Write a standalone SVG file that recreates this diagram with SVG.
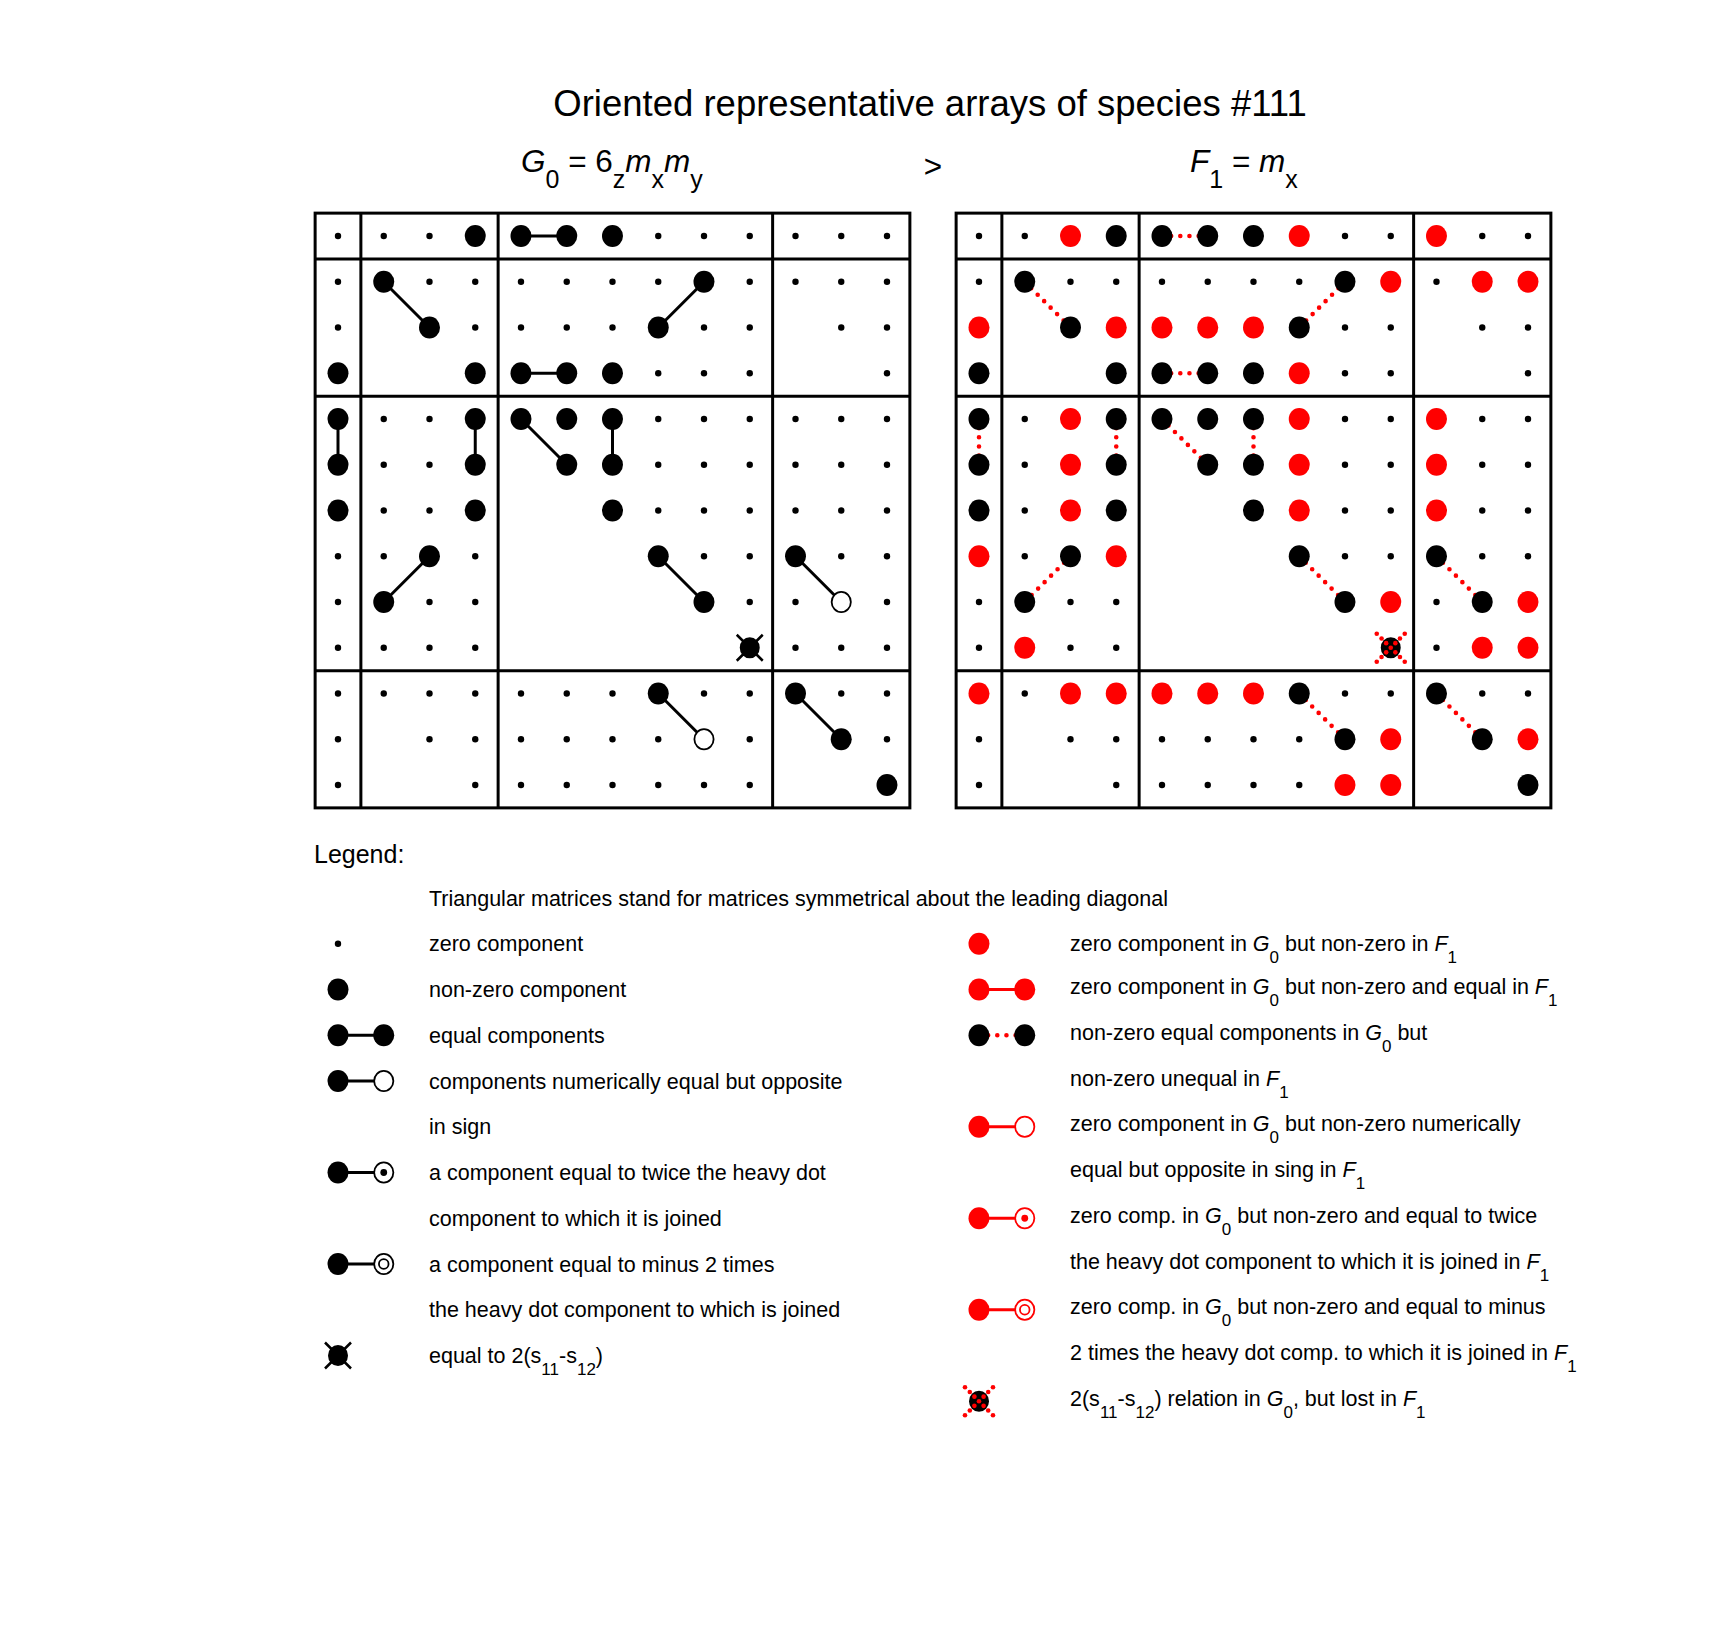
<svg xmlns="http://www.w3.org/2000/svg" width="1715" height="1626" viewBox="0 0 1715 1626">
<style>
text { font-family: "Liberation Sans", Arial, Helvetica, sans-serif; fill: #000; }
.ttl { font-size: 36.5px; }
.hd { font-size: 31.5px; }
.hs { font-size: 25px; }
.lg { font-size: 21.5px; }
.ls { font-size: 17px; }
.lh { font-size: 25px; }
.it { font-style: italic; }
.fr { fill: none; stroke: #000; stroke-width: 3; }
.dv { stroke: #000; stroke-width: 3; }
.c { stroke: #000; stroke-width: 3; }
.cr { stroke: #f00; stroke-width: 3; }
.d { stroke: #f00; stroke-width: 4.6; stroke-linecap: round; stroke-dasharray: 0 9.15; fill: none; }
</style>
<defs>
<circle id="s" r="3.2" fill="#000"/>
<ellipse id="b" rx="10.5" ry="11" fill="#000"/>
<ellipse id="r" rx="10.5" ry="11" fill="#f00"/>
<ellipse id="o" rx="9.6" ry="10.1" fill="#fff" stroke="#000" stroke-width="1.8"/>
<ellipse id="or" rx="9.6" ry="10.1" fill="#fff" stroke="#f00" stroke-width="1.8"/>
<g id="od"><use href="#o"/><circle r="3.4" fill="#000"/></g>
<g id="oo"><use href="#o"/><circle r="4.8" fill="none" stroke="#000" stroke-width="1.8"/></g>
<g id="odr"><use href="#or"/><circle r="3.4" fill="#f00"/></g>
<g id="oor"><use href="#or"/><circle r="4.8" fill="none" stroke="#f00" stroke-width="1.8"/></g>
<g id="x"><ellipse rx="10" ry="10.5" fill="#000"/><path d="M-13,-13 L13,13 M-13,13 L13,-13" stroke="#000" stroke-width="2.5"/></g>
<g id="xr"><ellipse rx="10" ry="10.5" fill="#000"/>
<g fill="#f00">
<circle r="2.3"/>
<circle cx="-4.6" cy="-4.6" r="2.3"/><circle cx="4.6" cy="-4.6" r="2.3"/><circle cx="-4.6" cy="4.6" r="2.3"/><circle cx="4.6" cy="4.6" r="2.3"/>
<circle cx="-9.2" cy="-9.2" r="2.3"/><circle cx="9.2" cy="-9.2" r="2.3"/><circle cx="-9.2" cy="9.2" r="2.3"/><circle cx="9.2" cy="9.2" r="2.3"/>
<circle cx="-14" cy="-14" r="2.3"/><circle cx="14" cy="-14" r="2.3"/><circle cx="-14" cy="14" r="2.3"/><circle cx="14" cy="14" r="2.3"/>
</g></g>
</defs>

<rect width="1715" height="1626" fill="#fff"/>

<g id="titles">
<text class="ttl" x="930" y="116" text-anchor="middle">Oriented representative arrays of species #111</text>
<text class="hd" x="521" y="172"><tspan class="it">G</tspan><tspan class="hs" dy="16">0</tspan><tspan dy="-16"> = 6</tspan><tspan class="hs" dy="16">z</tspan><tspan class="it" dy="-16">m</tspan><tspan class="hs" dy="16">x</tspan><tspan class="it" dy="-16">m</tspan><tspan class="hs" dy="16">y</tspan></text>
<text class="hd" x="933" y="177" text-anchor="middle">&gt;</text>
<text class="hd" x="1190" y="172"><tspan class="it">F</tspan><tspan class="hs" dy="16">1</tspan><tspan dy="-16"> = </tspan><tspan class="it">m</tspan><tspan class="hs" dy="16">x</tspan></text>
</g>

<g id="G0-array">
<g id="G0-frame">
<rect class="fr" x="315.125" y="213.125" width="594.75" height="594.75"/>
<line class="dv" x1="360.875" y1="213.125" x2="360.875" y2="807.875"/>
<line class="dv" x1="498.125" y1="213.125" x2="498.125" y2="807.875"/>
<line class="dv" x1="772.625" y1="213.125" x2="772.625" y2="807.875"/>
<line class="dv" x1="315.125" y1="258.875" x2="909.875" y2="258.875"/>
<line class="dv" x1="315.125" y1="396.125" x2="909.875" y2="396.125"/>
<line class="dv" x1="315.125" y1="670.625" x2="909.875" y2="670.625"/>
</g>
<g id="G0-connectors">
<line class="c" x1="521" y1="236" x2="566.75" y2="236"/>
<line class="c" x1="383.75" y1="281.75" x2="429.5" y2="327.5"/>
<line class="c" x1="704" y1="281.75" x2="658.25" y2="327.5"/>
<line class="c" x1="521" y1="373.25" x2="566.75" y2="373.25"/>
<line class="c" x1="338" y1="419" x2="338" y2="464.75"/>
<line class="c" x1="475.25" y1="419" x2="475.25" y2="464.75"/>
<line class="c" x1="521" y1="419" x2="566.75" y2="464.75"/>
<line class="c" x1="612.5" y1="419" x2="612.5" y2="464.75"/>
<line class="c" x1="429.5" y1="556.25" x2="383.75" y2="602"/>
<line class="c" x1="658.25" y1="556.25" x2="704" y2="602"/>
<line class="c" x1="795.5" y1="556.25" x2="841.25" y2="602"/>
<line class="c" x1="658.25" y1="693.5" x2="704" y2="739.25"/>
<line class="c" x1="795.5" y1="693.5" x2="841.25" y2="739.25"/>
</g>
<g id="G0-entries">
<g transform="translate(0 236)"><use href="#s" x="338"/><use href="#s" x="383.75"/><use href="#s" x="429.5"/><use href="#b" x="475.25"/><use href="#b" x="521"/><use href="#b" x="566.75"/><use href="#b" x="612.5"/><use href="#s" x="658.25"/><use href="#s" x="704"/><use href="#s" x="749.75"/><use href="#s" x="795.5"/><use href="#s" x="841.25"/><use href="#s" x="887"/></g>
<g transform="translate(0 281.75)"><use href="#s" x="338"/><use href="#b" x="383.75"/><use href="#s" x="429.5"/><use href="#s" x="475.25"/><use href="#s" x="521"/><use href="#s" x="566.75"/><use href="#s" x="612.5"/><use href="#s" x="658.25"/><use href="#b" x="704"/><use href="#s" x="749.75"/><use href="#s" x="795.5"/><use href="#s" x="841.25"/><use href="#s" x="887"/></g>
<g transform="translate(0 327.5)"><use href="#s" x="338"/><use href="#b" x="429.5"/><use href="#s" x="475.25"/><use href="#s" x="521"/><use href="#s" x="566.75"/><use href="#s" x="612.5"/><use href="#b" x="658.25"/><use href="#s" x="704"/><use href="#s" x="749.75"/><use href="#s" x="841.25"/><use href="#s" x="887"/></g>
<g transform="translate(0 373.25)"><use href="#b" x="338"/><use href="#b" x="475.25"/><use href="#b" x="521"/><use href="#b" x="566.75"/><use href="#b" x="612.5"/><use href="#s" x="658.25"/><use href="#s" x="704"/><use href="#s" x="749.75"/><use href="#s" x="887"/></g>
<g transform="translate(0 419)"><use href="#b" x="338"/><use href="#s" x="383.75"/><use href="#s" x="429.5"/><use href="#b" x="475.25"/><use href="#b" x="521"/><use href="#b" x="566.75"/><use href="#b" x="612.5"/><use href="#s" x="658.25"/><use href="#s" x="704"/><use href="#s" x="749.75"/><use href="#s" x="795.5"/><use href="#s" x="841.25"/><use href="#s" x="887"/></g>
<g transform="translate(0 464.75)"><use href="#b" x="338"/><use href="#s" x="383.75"/><use href="#s" x="429.5"/><use href="#b" x="475.25"/><use href="#b" x="566.75"/><use href="#b" x="612.5"/><use href="#s" x="658.25"/><use href="#s" x="704"/><use href="#s" x="749.75"/><use href="#s" x="795.5"/><use href="#s" x="841.25"/><use href="#s" x="887"/></g>
<g transform="translate(0 510.5)"><use href="#b" x="338"/><use href="#s" x="383.75"/><use href="#s" x="429.5"/><use href="#b" x="475.25"/><use href="#b" x="612.5"/><use href="#s" x="658.25"/><use href="#s" x="704"/><use href="#s" x="749.75"/><use href="#s" x="795.5"/><use href="#s" x="841.25"/><use href="#s" x="887"/></g>
<g transform="translate(0 556.25)"><use href="#s" x="338"/><use href="#s" x="383.75"/><use href="#b" x="429.5"/><use href="#s" x="475.25"/><use href="#b" x="658.25"/><use href="#s" x="704"/><use href="#s" x="749.75"/><use href="#b" x="795.5"/><use href="#s" x="841.25"/><use href="#s" x="887"/></g>
<g transform="translate(0 602)"><use href="#s" x="338"/><use href="#b" x="383.75"/><use href="#s" x="429.5"/><use href="#s" x="475.25"/><use href="#b" x="704"/><use href="#s" x="749.75"/><use href="#s" x="795.5"/><use href="#o" x="841.25"/><use href="#s" x="887"/></g>
<g transform="translate(0 647.75)"><use href="#s" x="338"/><use href="#s" x="383.75"/><use href="#s" x="429.5"/><use href="#s" x="475.25"/><use href="#x" x="749.75"/><use href="#s" x="795.5"/><use href="#s" x="841.25"/><use href="#s" x="887"/></g>
<g transform="translate(0 693.5)"><use href="#s" x="338"/><use href="#s" x="383.75"/><use href="#s" x="429.5"/><use href="#s" x="475.25"/><use href="#s" x="521"/><use href="#s" x="566.75"/><use href="#s" x="612.5"/><use href="#b" x="658.25"/><use href="#s" x="704"/><use href="#s" x="749.75"/><use href="#b" x="795.5"/><use href="#s" x="841.25"/><use href="#s" x="887"/></g>
<g transform="translate(0 739.25)"><use href="#s" x="338"/><use href="#s" x="429.5"/><use href="#s" x="475.25"/><use href="#s" x="521"/><use href="#s" x="566.75"/><use href="#s" x="612.5"/><use href="#s" x="658.25"/><use href="#o" x="704"/><use href="#s" x="749.75"/><use href="#b" x="841.25"/><use href="#s" x="887"/></g>
<g transform="translate(0 785)"><use href="#s" x="338"/><use href="#s" x="475.25"/><use href="#s" x="521"/><use href="#s" x="566.75"/><use href="#s" x="612.5"/><use href="#s" x="658.25"/><use href="#s" x="704"/><use href="#s" x="749.75"/><use href="#b" x="887"/></g>
</g>
</g>

<g id="F1-array" transform="translate(641 0)">
<g id="F1-frame">
<rect class="fr" x="315.125" y="213.125" width="594.75" height="594.75"/>
<line class="dv" x1="360.875" y1="213.125" x2="360.875" y2="807.875"/>
<line class="dv" x1="498.125" y1="213.125" x2="498.125" y2="807.875"/>
<line class="dv" x1="772.625" y1="213.125" x2="772.625" y2="807.875"/>
<line class="dv" x1="315.125" y1="258.875" x2="909.875" y2="258.875"/>
<line class="dv" x1="315.125" y1="396.125" x2="909.875" y2="396.125"/>
<line class="dv" x1="315.125" y1="670.625" x2="909.875" y2="670.625"/>
</g>
<g id="F1-connectors">
<line class="d" x1="521" y1="236" x2="566.75" y2="236"/>
<line class="d" x1="383.75" y1="281.75" x2="429.5" y2="327.5"/>
<line class="d" x1="704" y1="281.75" x2="658.25" y2="327.5"/>
<line class="d" x1="521" y1="373.25" x2="566.75" y2="373.25"/>
<line class="d" x1="338" y1="419" x2="338" y2="464.75"/>
<line class="d" x1="475.25" y1="419" x2="475.25" y2="464.75"/>
<line class="d" x1="521" y1="419" x2="566.75" y2="464.75"/>
<line class="d" x1="612.5" y1="419" x2="612.5" y2="464.75"/>
<line class="d" x1="429.5" y1="556.25" x2="383.75" y2="602"/>
<line class="d" x1="658.25" y1="556.25" x2="704" y2="602"/>
<line class="d" x1="795.5" y1="556.25" x2="841.25" y2="602"/>
<line class="d" x1="658.25" y1="693.5" x2="704" y2="739.25"/>
<line class="d" x1="795.5" y1="693.5" x2="841.25" y2="739.25"/>
</g>
<g id="F1-entries">
<g transform="translate(0 236)"><use href="#s" x="338"/><use href="#s" x="383.75"/><use href="#r" x="429.5"/><use href="#b" x="475.25"/><use href="#b" x="521"/><use href="#b" x="566.75"/><use href="#b" x="612.5"/><use href="#r" x="658.25"/><use href="#s" x="704"/><use href="#s" x="749.75"/><use href="#r" x="795.5"/><use href="#s" x="841.25"/><use href="#s" x="887"/></g>
<g transform="translate(0 281.75)"><use href="#s" x="338"/><use href="#b" x="383.75"/><use href="#s" x="429.5"/><use href="#s" x="475.25"/><use href="#s" x="521"/><use href="#s" x="566.75"/><use href="#s" x="612.5"/><use href="#s" x="658.25"/><use href="#b" x="704"/><use href="#r" x="749.75"/><use href="#s" x="795.5"/><use href="#r" x="841.25"/><use href="#r" x="887"/></g>
<g transform="translate(0 327.5)"><use href="#r" x="338"/><use href="#b" x="429.5"/><use href="#r" x="475.25"/><use href="#r" x="521"/><use href="#r" x="566.75"/><use href="#r" x="612.5"/><use href="#b" x="658.25"/><use href="#s" x="704"/><use href="#s" x="749.75"/><use href="#s" x="841.25"/><use href="#s" x="887"/></g>
<g transform="translate(0 373.25)"><use href="#b" x="338"/><use href="#b" x="475.25"/><use href="#b" x="521"/><use href="#b" x="566.75"/><use href="#b" x="612.5"/><use href="#r" x="658.25"/><use href="#s" x="704"/><use href="#s" x="749.75"/><use href="#s" x="887"/></g>
<g transform="translate(0 419)"><use href="#b" x="338"/><use href="#s" x="383.75"/><use href="#r" x="429.5"/><use href="#b" x="475.25"/><use href="#b" x="521"/><use href="#b" x="566.75"/><use href="#b" x="612.5"/><use href="#r" x="658.25"/><use href="#s" x="704"/><use href="#s" x="749.75"/><use href="#r" x="795.5"/><use href="#s" x="841.25"/><use href="#s" x="887"/></g>
<g transform="translate(0 464.75)"><use href="#b" x="338"/><use href="#s" x="383.75"/><use href="#r" x="429.5"/><use href="#b" x="475.25"/><use href="#b" x="566.75"/><use href="#b" x="612.5"/><use href="#r" x="658.25"/><use href="#s" x="704"/><use href="#s" x="749.75"/><use href="#r" x="795.5"/><use href="#s" x="841.25"/><use href="#s" x="887"/></g>
<g transform="translate(0 510.5)"><use href="#b" x="338"/><use href="#s" x="383.75"/><use href="#r" x="429.5"/><use href="#b" x="475.25"/><use href="#b" x="612.5"/><use href="#r" x="658.25"/><use href="#s" x="704"/><use href="#s" x="749.75"/><use href="#r" x="795.5"/><use href="#s" x="841.25"/><use href="#s" x="887"/></g>
<g transform="translate(0 556.25)"><use href="#r" x="338"/><use href="#s" x="383.75"/><use href="#b" x="429.5"/><use href="#r" x="475.25"/><use href="#b" x="658.25"/><use href="#s" x="704"/><use href="#s" x="749.75"/><use href="#b" x="795.5"/><use href="#s" x="841.25"/><use href="#s" x="887"/></g>
<g transform="translate(0 602)"><use href="#s" x="338"/><use href="#b" x="383.75"/><use href="#s" x="429.5"/><use href="#s" x="475.25"/><use href="#b" x="704"/><use href="#r" x="749.75"/><use href="#s" x="795.5"/><use href="#b" x="841.25"/><use href="#r" x="887"/></g>
<g transform="translate(0 647.75)"><use href="#s" x="338"/><use href="#r" x="383.75"/><use href="#s" x="429.5"/><use href="#s" x="475.25"/><use href="#xr" x="749.75"/><use href="#s" x="795.5"/><use href="#r" x="841.25"/><use href="#r" x="887"/></g>
<g transform="translate(0 693.5)"><use href="#r" x="338"/><use href="#s" x="383.75"/><use href="#r" x="429.5"/><use href="#r" x="475.25"/><use href="#r" x="521"/><use href="#r" x="566.75"/><use href="#r" x="612.5"/><use href="#b" x="658.25"/><use href="#s" x="704"/><use href="#s" x="749.75"/><use href="#b" x="795.5"/><use href="#s" x="841.25"/><use href="#s" x="887"/></g>
<g transform="translate(0 739.25)"><use href="#s" x="338"/><use href="#s" x="429.5"/><use href="#s" x="475.25"/><use href="#s" x="521"/><use href="#s" x="566.75"/><use href="#s" x="612.5"/><use href="#s" x="658.25"/><use href="#b" x="704"/><use href="#r" x="749.75"/><use href="#b" x="841.25"/><use href="#r" x="887"/></g>
<g transform="translate(0 785)"><use href="#s" x="338"/><use href="#s" x="475.25"/><use href="#s" x="521"/><use href="#s" x="566.75"/><use href="#s" x="612.5"/><use href="#s" x="658.25"/><use href="#r" x="704"/><use href="#r" x="749.75"/><use href="#b" x="887"/></g>
</g>
</g>

<g id="legend">
<text class="lh" x="314" y="863">Legend:</text>
<text class="lg" x="429" y="905.5">Triangular matrices stand for matrices symmetrical about the leading diagonal</text>

<g id="leg-zero">
<use href="#s" x="338" y="943.75"/>
<text class="lg" x="429" y="951.25">zero component</text>
</g>
<g id="leg-nonzero">
<use href="#b" x="338" y="989.5"/>
<text class="lg" x="429" y="997">non-zero component</text>
</g>
<g id="leg-equal">
<line class="c" x1="338" y1="1035.25" x2="383.75" y2="1035.25"/>
<use href="#b" x="338" y="1035.25"/><use href="#b" x="383.75" y="1035.25"/>
<text class="lg" x="429" y="1042.75">equal components</text>
</g>
<g id="leg-opposite">
<line class="c" x1="338" y1="1081" x2="383.75" y2="1081"/>
<use href="#b" x="338" y="1081"/><use href="#o" x="383.75" y="1081"/>
<text class="lg" x="429" y="1088.5">components numerically equal but opposite</text>
<text class="lg" x="429" y="1134.25">in sign</text>
</g>
<g id="leg-twice">
<line class="c" x1="338" y1="1172.5" x2="383.75" y2="1172.5"/>
<use href="#b" x="338" y="1172.5"/><use href="#od" x="383.75" y="1172.5"/>
<text class="lg" x="429" y="1180">a component equal to twice the heavy dot</text>
<text class="lg" x="429" y="1225.75">component to which it is joined</text>
</g>
<g id="leg-minus2">
<line class="c" x1="338" y1="1264" x2="383.75" y2="1264"/>
<use href="#b" x="338" y="1264"/><use href="#oo" x="383.75" y="1264"/>
<text class="lg" x="429" y="1271.5">a component equal to minus 2 times</text>
<text class="lg" x="429" y="1317.25">the heavy dot component to which is joined</text>
</g>
<g id="leg-s11s12">
<use href="#x" x="338" y="1355.5"/>
<text class="lg" x="429" y="1363">equal to 2(s<tspan class="ls" dy="12">11</tspan><tspan dy="-12">-s</tspan><tspan class="ls" dy="12">12</tspan><tspan dy="-12">)</tspan></text>
</g>

<g id="leg-red-zero">
<use href="#r" x="979" y="943.75"/>
<text class="lg" x="1070" y="951.25">zero component in <tspan class="it">G</tspan><tspan class="ls" dy="12">0</tspan><tspan dy="-12"> but non-zero in </tspan><tspan class="it">F</tspan><tspan class="ls" dy="12">1</tspan></text>
</g>
<g id="leg-red-equal">
<line class="cr" x1="979" y1="989.5" x2="1024.75" y2="989.5"/>
<use href="#r" x="979" y="989.5"/><use href="#r" x="1024.75" y="989.5"/>
<text class="lg" x="1070" y="994">zero component in <tspan class="it">G</tspan><tspan class="ls" dy="12">0</tspan><tspan dy="-12"> but non-zero and equal in </tspan><tspan class="it">F</tspan><tspan class="ls" dy="12">1</tspan></text>
</g>
<g id="leg-red-unequal">
<line class="d" x1="979" y1="1035.25" x2="1024.75" y2="1035.25"/>
<use href="#b" x="979" y="1035.25"/><use href="#b" x="1024.75" y="1035.25"/>
<text class="lg" x="1070" y="1039.75">non-zero equal components in <tspan class="it">G</tspan><tspan class="ls" dy="12">0</tspan><tspan dy="-12"> but</tspan></text>
<text class="lg" x="1070" y="1085.5">non-zero unequal in <tspan class="it">F</tspan><tspan class="ls" dy="12">1</tspan></text>
</g>
<g id="leg-red-opposite">
<line class="cr" x1="979" y1="1126.75" x2="1024.75" y2="1126.75"/>
<use href="#r" x="979" y="1126.75"/><use href="#or" x="1024.75" y="1126.75"/>
<text class="lg" x="1070" y="1131.25">zero component in <tspan class="it">G</tspan><tspan class="ls" dy="12">0</tspan><tspan dy="-12"> but non-zero numerically</tspan></text>
<text class="lg" x="1070" y="1177">equal but opposite in sing in <tspan class="it">F</tspan><tspan class="ls" dy="12">1</tspan></text>
</g>
<g id="leg-red-twice">
<line class="cr" x1="979" y1="1218.25" x2="1024.75" y2="1218.25"/>
<use href="#r" x="979" y="1218.25"/><use href="#odr" x="1024.75" y="1218.25"/>
<text class="lg" x="1070" y="1222.75">zero comp. in <tspan class="it">G</tspan><tspan class="ls" dy="12">0</tspan><tspan dy="-12"> but non-zero and equal to twice</tspan></text>
<text class="lg" x="1070" y="1268.5">the heavy dot component to which it is joined in <tspan class="it">F</tspan><tspan class="ls" dy="12">1</tspan></text>
</g>
<g id="leg-red-minus2">
<line class="cr" x1="979" y1="1309.75" x2="1024.75" y2="1309.75"/>
<use href="#r" x="979" y="1309.75"/><use href="#oor" x="1024.75" y="1309.75"/>
<text class="lg" x="1070" y="1314.25">zero comp. in <tspan class="it">G</tspan><tspan class="ls" dy="12">0</tspan><tspan dy="-12"> but non-zero and equal to minus</tspan></text>
<text class="lg" x="1070" y="1360">2 times the heavy dot comp. to which it is joined in <tspan class="it">F</tspan><tspan class="ls" dy="12">1</tspan></text>
</g>
<g id="leg-red-lost">
<use href="#xr" x="979" y="1401.25"/>
<text class="lg" x="1070" y="1405.75">2(s<tspan class="ls" dy="12">11</tspan><tspan dy="-12">-s</tspan><tspan class="ls" dy="12">12</tspan><tspan dy="-12">) relation in </tspan><tspan class="it">G</tspan><tspan class="ls" dy="12">0</tspan><tspan dy="-12">, but lost in </tspan><tspan class="it">F</tspan><tspan class="ls" dy="12">1</tspan></text>
</g>
</g>
</svg>
